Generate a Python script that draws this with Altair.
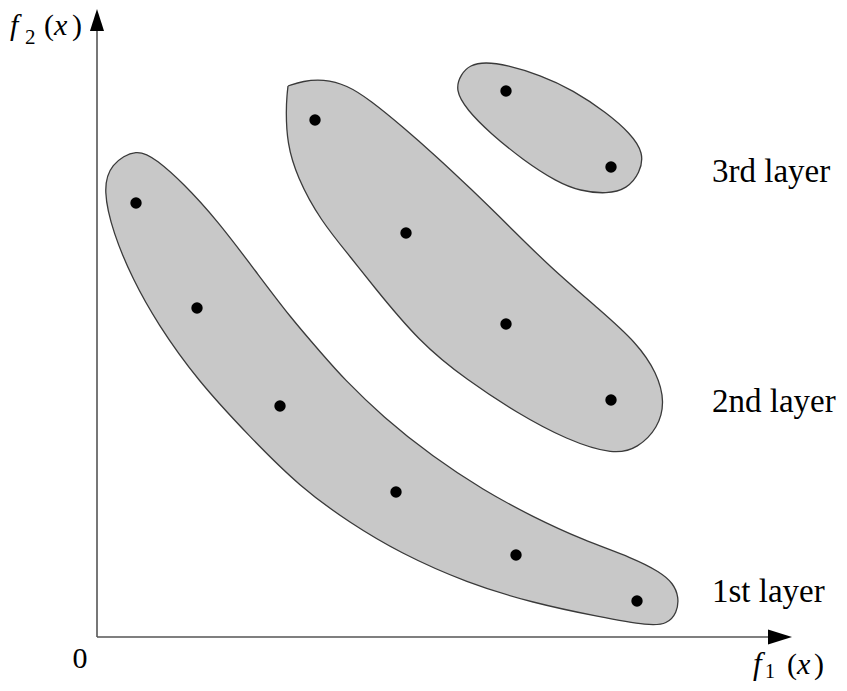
import altair as alt
import pandas as pd

# ---- data (f1 = horizontal objective, f2 = vertical objective) ----
layer_names = ["1st layer", "2nd layer", "3rd layer"]

layer1_f1 = [39, 100, 183, 299, 419, 540]
layer1_f2 = [434, 329, 231, 145, 82, 36]
layer2_f1 = [218, 309, 409, 514]
layer2_f2 = [517, 404, 313, 237]
layer3_f1 = [409, 514]
layer3_f2 = [546, 470]

# outlines of the shaded regions around each layer
region1_f1 = [40, 60, 86, 120, 160, 193, 226, 246, 286, 336, 386, 436, 486, 536, 563, 576,
              582, 580, 570, 553, 503, 436, 370, 303, 253, 203, 153, 100, 60, 36, 16, 6, 13]
region1_f2 = [489, 477, 454, 417, 364, 320, 282, 259, 220, 180, 147, 120, 97, 79, 65, 54,
              40, 24, 13, 11, 20, 34, 54, 84, 114, 150, 200, 257, 314, 357, 404, 447, 473]
region2_f1 = [191, 191, 191, 206, 226, 250, 273, 306, 340, 373, 413, 453, 503, 540, 560, 568, 561, 541,
              517, 470, 420, 370, 323, 273, 256, 223, 200, 190, 189, 190]
region2_f2 = [551, 551, 551, 556, 558, 552, 537, 510, 480, 449, 410, 370, 327, 294, 264, 235, 209, 189,
              182, 197, 224, 257, 294, 355, 377, 417, 460, 494, 527, 542]
region3_f1 = [358, 364, 373, 388, 410, 443, 476, 510, 533, 547, 543, 530, 510, 483, 460, 426, 393, 370]
region3_f2 = [547, 563, 572, 575, 572, 562, 547, 524, 504, 484, 464, 448, 443, 446, 455, 477, 504, 527]

# ---- tables ----
pts = pd.DataFrame({
    "f1": layer1_f1 + layer2_f1 + layer3_f1,
    "f2": layer1_f2 + layer2_f2 + layer3_f2,
    "layer": [layer_names[0]] * len(layer1_f1) + [layer_names[1]] * len(layer2_f1) + [layer_names[2]] * len(layer3_f1),
})

regs = []
for name, xs_, ys_ in [(layer_names[0], region1_f1, region1_f2),
                       (layer_names[1], region2_f1, region2_f2),
                       (layer_names[2], region3_f1, region3_f2)]:
    for i, (a, b) in enumerate(zip(xs_, ys_)):
        regs.append({"f1": a, "f2": b, "layer": name, "i": i})
regs = pd.DataFrame(regs)

xs = alt.Scale(domain=[-89, 742], nice=False, zero=False)
ys = alt.Scale(domain=[-46, 629], nice=False, zero=False)
X = lambda f="f1:Q": alt.X(f, scale=xs, axis=None)
Y = lambda f="f2:Q": alt.Y(f, scale=ys, axis=None)

SERIF = "Liberation Serif, Times New Roman, serif"
AXC = "#555555"

regions = alt.Chart(regs).mark_line(
    interpolate="basis-closed", fill="#c8c8c8", stroke="#3a3a3a", strokeWidth=1.3
).encode(x=X(), y=Y(), order="i:Q", detail="layer:N")

points = alt.Chart(pts).mark_circle(size=130, color="black", opacity=1).encode(x=X(), y=Y())

base = alt.Chart(pd.DataFrame({"a": [0]}))

x_axis = base.mark_rule(color=AXC, strokeWidth=1.6).encode(
    x=alt.datum(0, scale=xs), x2=alt.datum(671), y=alt.datum(0, scale=ys))
y_axis = base.mark_rule(color=AXC, strokeWidth=1.6).encode(
    x=alt.datum(0, scale=xs), y=alt.datum(0, scale=ys), y2=alt.datum(606))

x_arrow = base.mark_point(shape="M-1,-0.625L1,0L-1,0.625Z", size=576, filled=True,
                          color="black", opacity=1).encode(
    x=alt.datum(683, scale=xs), y=alt.datum(0, scale=ys))
y_arrow = base.mark_point(shape="M-0.64,1L0,-1L0.64,1Z", size=484, filled=True,
                          color="black", opacity=1).encode(
    x=alt.datum(0, scale=xs), y=alt.datum(617, scale=ys))


def txt(s, x, y, size=32, style="normal", align="left"):
    return base.mark_text(text=s, font=SERIF, fontSize=size, fontStyle=style, align=align,
                          baseline="alphabetic", color="black").encode(
        x=alt.datum(x, scale=xs), y=alt.datum(y, scale=ys))


labels = [
    txt(layer_names[2], 615, 455, 33),
    txt(layer_names[1], 615, 225, 33),
    txt(layer_names[0], 615, 35, 33),
    # f2(x)
    txt("f", -87, 602, 30, "italic"),
    txt("2", -72, 593, 21),
    txt("(", -53, 602, 30),
    txt("x", -43, 602, 30, "italic"),
    txt(")", -25, 602, 30),
    # f1(x)
    txt("f", 656, -37, 31, "italic"),
    txt("1", 668, -41, 20),
    txt("(", 690, -37, 30),
    txt("x", 700, -37, 30, "italic"),
    txt(")", 717, -37, 30),
    # origin
    txt("0", -17, -31, 30, align="center"),
]

chart = alt.layer(regions, points, x_axis, y_axis, x_arrow, y_arrow, *labels).properties(
    width=831, height=675, padding=0, autosize=alt.AutoSizeParams(type="none"),
    background="white"
).configure_view(stroke=None)

chart.save("out.html", embed_options={"renderer": "svg", "actions": False})
